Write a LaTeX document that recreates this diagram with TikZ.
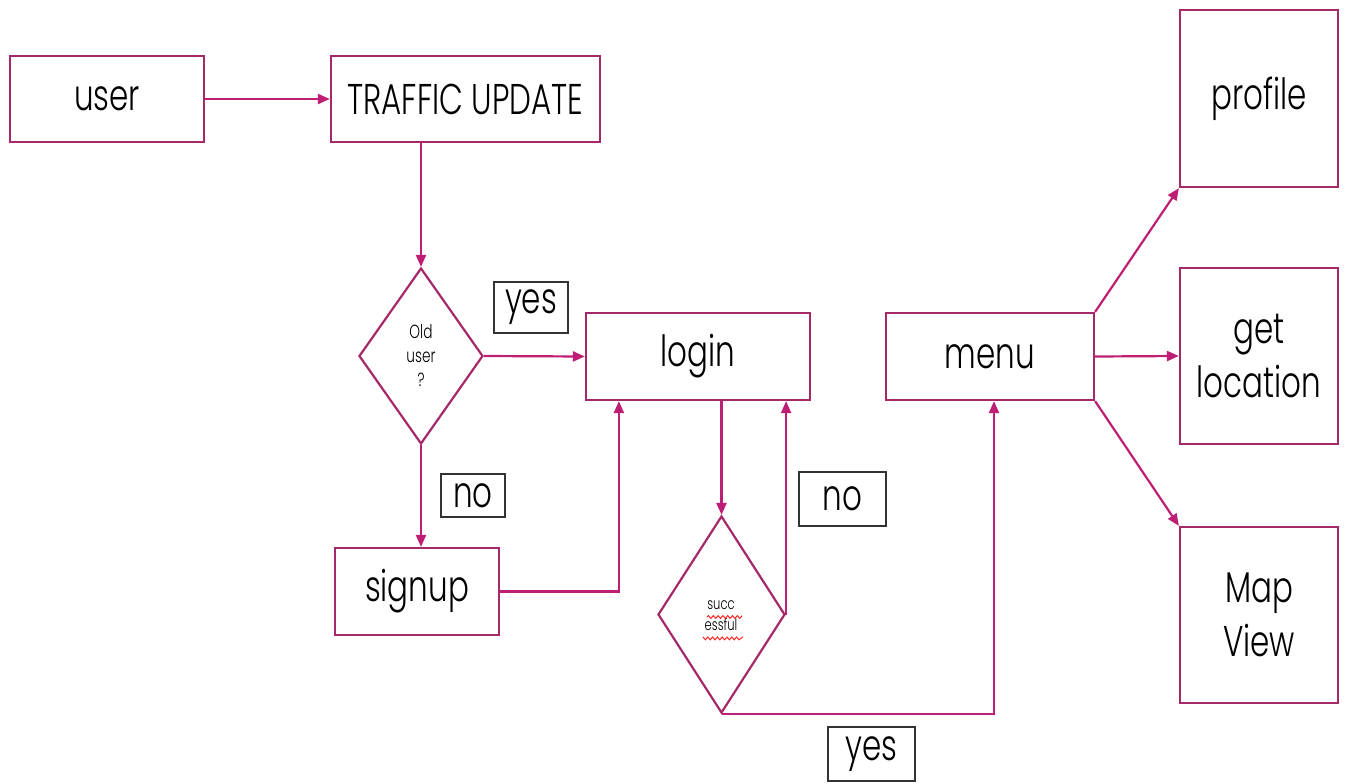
\documentclass[tikz,border=0pt]{standalone}
\usepackage{fontspec}
\setmainfont{Poppins Light}[FakeStretch=0.72]
\usetikzlibrary{shapes.geometric,arrows.meta,decorations.pathmorphing}
\definecolor{edge}{RGB}{165,40,105}
\definecolor{flow}{RGB}{190,30,115}
\definecolor{tagline}{gray}{0.2}

\begin{document}
\begin{tikzpicture}[x=0.5pt,y=-0.5pt,
  blk/.style={draw=edge,line width=1.1pt,inner sep=0pt,align=center,
    font=\fontsize{21.5}{27}\selectfont},
  ask/.style={diamond,draw=edge,line width=1.1pt,inner sep=0pt,align=center},
  tag/.style={draw=tagline,line width=0.8pt,inner sep=0pt,
    font=\fontsize{21.5}{25}\selectfont},
  link/.style={draw=flow,line width=1.1pt,-{Triangle[length=6pt,width=5pt]}}]
  \useasboundingbox (0,0) rectangle (1345,783);
  % boxes
  \node[blk,minimum width=97pt,minimum height=43pt] (user) at (107,99) {user};
  \node[blk,minimum width=134.5pt,minimum height=43pt] (traffic) at (465.5,99) {TRAFFIC UPDATE};
  \node[ask,minimum width=62pt,minimum height=88pt,font=\fontsize{9.5}{12}\selectfont] (old) at (421,356) {Old\\user\\?};
  \node[blk,minimum width=112pt,minimum height=43.5pt] (login) at (698,356.5) {login};
  \node[blk,minimum width=82pt,minimum height=43.5pt] (signup) at (417,591.5) {signup};
  \node[ask,minimum width=63.5pt,minimum height=98.5pt] (succ) at (721.5,614.5) {};
  \node[font=\fontsize{8}{10.5}\selectfont,align=center] (succtxt) at (721,616) {succ\\essful};
  \node[blk,minimum width=104pt,minimum height=43.5pt] (menu) at (990,356.5) {menu};
  \node[blk,minimum width=79pt,minimum height=88.5pt] (profile) at (1259,98.5) {profile};
  \node[blk,minimum width=79pt,minimum height=88pt] (getloc) at (1259,356) {get\\location};
  \node[blk,minimum width=79pt,minimum height=88pt] (mapview) at (1259,615) {Map\\View};
  % labels on the branches
  \node[tag,minimum width=37pt,minimum height=25.5pt] (yes1) at (531,307.5) {yes};
  \node[tag,minimum width=32pt,minimum height=21.5pt] (no1) at (473,495.5) {no};
  \node[tag,minimum width=43.5pt,minimum height=27pt] (no2) at (842.5,499) {no};
  \node[tag,minimum width=43.5pt,minimum height=27pt] (yes2) at (871.5,754) {yes};
  % spell-check squiggles
  \draw[red!85,line width=0.5pt,decorate,decoration={snake,amplitude=0.7pt,segment length=2.4pt}]
    (707,617) -- (740,617) (703,637) -- (743,637);
  % connectors
  \draw[link] (user.east) -- (traffic.west);
  \draw[link] (old.north |- traffic.south) -- (old.north);
  \draw[link] (old.east) -- (login.west);
  \draw[link] (old.south) -- (signup.north -| old.south);
  \draw[link] (signup.east) -| ([xshift=17pt]login.south west);
  \draw[link] (succ.north |- login.south) -- (succ.north);
  \draw[link] (succ.east) -- (succ.east |- login.south);
  \draw[link] (succ.south) -| ([xshift=2pt]menu.south);
  \draw[link] (menu.north east) -- (profile.south west);
  \draw[link] (menu.east) -- (getloc.west);
  \draw[link] (menu.south east) -- (mapview.north west);
\end{tikzpicture}
\end{document}
